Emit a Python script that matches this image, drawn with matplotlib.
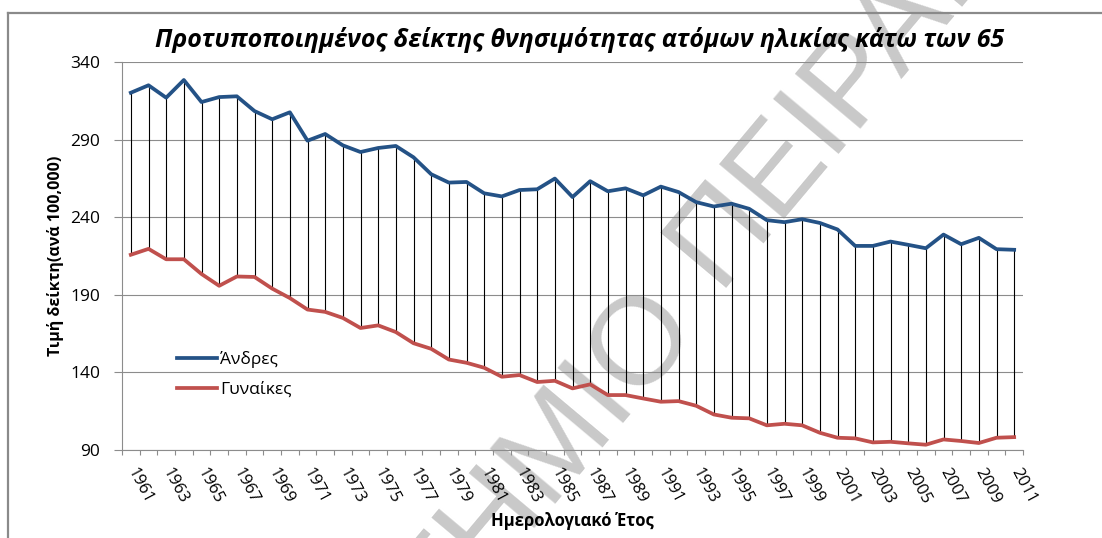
import numpy as np
import matplotlib
matplotlib.use('Agg')
import matplotlib.pyplot as plt
from matplotlib import font_manager
from matplotlib.lines import Line2D

years = np.arange(1961, 2012)

# men, standardised mortality index under 65 (per 100,000)
men = [320.2, 325.0, 317.0, 328.4, 314.2, 317.4, 317.9, 308.4, 303.1, 307.6,
       289.3, 293.6, 286.3, 282.0, 284.6, 285.9, 278.6, 267.7, 262.3, 262.7,
       255.4, 253.4, 257.5, 258.0, 264.9, 253.0, 263.2, 256.7, 258.6, 254.1,
       259.7, 256.2, 249.7, 246.9, 248.7, 245.4, 238.1, 236.8, 238.7, 236.3,
       232.1, 221.5, 221.5, 224.3, 222.2, 220.0, 228.8, 222.6, 226.7, 219.4, 219.0]
# women
women = [215.8, 219.6, 212.9, 212.9, 203.4, 195.8, 201.8, 201.5, 194.0, 187.9,
         180.5, 179.0, 175.1, 168.6, 170.3, 166.0, 158.8, 155.2, 148.3, 146.2,
         143.0, 137.2, 138.3, 133.8, 134.6, 129.7, 132.3, 125.4, 125.4, 123.2,
         121.1, 121.5, 118.5, 112.9, 110.8, 110.4, 105.9, 106.9, 105.9, 101.1,
         97.9, 97.5, 94.9, 95.3, 94.3, 93.4, 96.8, 95.8, 94.5, 97.9, 98.3]

yticks = [90, 140, 190, 240, 290, 340]
label_years = years[::2]

title = 'Προτυποποιημένος δείκτης θνησιμότητας ατόμων ηλικίας κάτω των 65'
ylabel = 'Τιμή δείκτη(ανά 100,000)'
xlabel = 'Ημερολογιακό Έτος'
names = ['Άνδρες', 'Γυναίκες']

BLUE = '#245286'
RED = '#C0504D'
GRID = '#8C8C8C'


def has_bold_italic(fam):
    for f in font_manager.fontManager.ttflist:
        if f.name == fam and f.style in ('italic', 'oblique') and f.weight in ('bold', 700, 'semibold', 600):
            return True
    return False


base = ['Open Sans', 'DejaVu Sans']
title_fam = 'Open Sans' if has_bold_italic('Open Sans') else 'DejaVu Sans'
plt.rcParams['font.family'] = base

W, H = 1102, 538
fig = plt.figure(figsize=(W / 100, H / 100), dpi=100)
fig.patch.set_facecolor('white')

ax = fig.add_axes([122 / W, 1 - 450 / H, (1023 - 122) / W, (450 - 62) / H])
ax.set_facecolor('none')

# watermark behind everything
wm = dict(fontsize=90, color='#C9C9C9', rotation=50, rotation_mode='anchor',
          va='baseline', family=['Liberation Sans', 'DejaVu Sans'], zorder=-1)
fig.text(698 / W, 1 - 322 / H, 'ΠΑΝΕΠΙΣΤΗΜΙΟ', ha='right', **wm)
fig.text(698 / W, 1 - 322 / H, ' ΠΕΙΡΑΙΩΣ', ha='left', **wm)

ax.vlines(years, women, men, color='black', lw=0.8, zorder=2)
ax.plot(years, men, color=BLUE, lw=2.7, label=names[0], zorder=3, solid_joinstyle='round')
ax.plot(years, women, color=RED, lw=2.7, label=names[1], zorder=3, solid_joinstyle='round')

ax.set_xlim(1960.5, 2011.5)
ax.set_ylim(90, 340)
ax.set_yticks(yticks)
ax.yaxis.grid(True, color=GRID, lw=0.8)
ax.set_axisbelow(True)

for s in ['top', 'right']:
    ax.spines[s].set_visible(False)
for s in ['left', 'bottom']:
    ax.spines[s].set_color(GRID)
    ax.spines[s].set_linewidth(0.8)

ax.set_xticks(np.arange(1960.5, 2012, 1.0))
ax.set_xticklabels([])
ax.set_xticks(label_years, minor=True)
ax.set_xticklabels([str(y) for y in label_years], minor=True, rotation=-62,
                   rotation_mode='anchor', ha='left', va='center', fontsize=12)
ax.tick_params(axis='x', which='major', length=3.5, color=GRID, width=0.8)
ax.tick_params(axis='x', which='minor', length=0, pad=14)
ax.tick_params(axis='y', length=5.5, color=GRID, width=0.8, pad=10, labelsize=12.5)

ax.set_ylabel(ylabel, fontsize=11.5, fontweight='bold')
ax.yaxis.set_label_coords(-58 / (1023 - 122), 0.5)
fig.text(572 / W, 1 - 521 / H, xlabel, ha='center', va='center', fontsize=12, fontweight='bold')
fig.text(580 / W, 1 - 40 / H, title, ha='center', va='center', fontsize=18,
         fontweight='bold', style='italic', family=[title_fam, 'DejaVu Sans'])

ax.legend(loc='upper left', bbox_to_anchor=(168 / W, 1 - 342 / H),
          bbox_transform=fig.transFigure, frameon=False, fontsize=12.5,
          handlelength=2.35, handletextpad=0.15, labelspacing=0.8, borderpad=0)

# outer chart frame (top and left edges)
fig.add_artist(Line2D([8 / W, 1], [1 - 13 / H, 1 - 13 / H], color='#8A8A8A', lw=1.6,
                      transform=fig.transFigure))
fig.add_artist(Line2D([8 / W, 8 / W], [0, 1 - 13 / H], color='#8A8A8A', lw=1.6,
                      transform=fig.transFigure))

fig.savefig('out.png', dpi=100)
